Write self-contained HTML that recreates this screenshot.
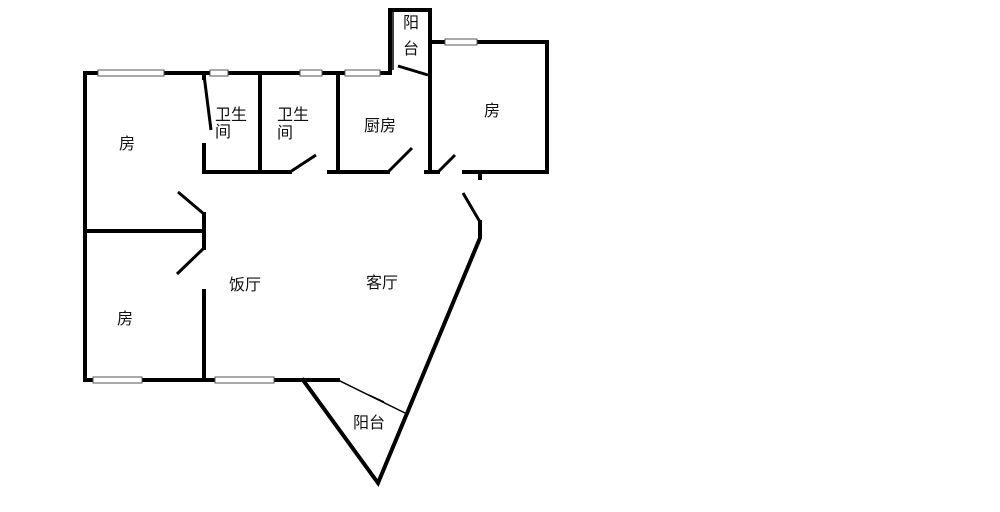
<!DOCTYPE html>
<html><head><meta charset="utf-8"><style>
html,body{margin:0;padding:0;background:#fff;width:1000px;height:512px;overflow:hidden}
svg text{font-family:"Liberation Sans","Noto Sans CJK SC",sans-serif;font-size:16px;fill:#111}
</style></head><body>
<svg width="1000" height="512" viewBox="0 0 1000 512">
<g stroke="#000" stroke-width="4" fill="none" stroke-linecap="square">
<path d="M85 73H390M85 73V380H338"/>
<path d="M204 77V78M204 145V172H290M260 73V172M338 73V172M329 172H388"/>
<path d="M390 73V10H430V172M430 42H547V172H464M426 172H438M480 172V178"/>
<path d="M85 231H204M204 214V248M204 291V380"/>
<path d="M303 380L378 483L480 238V222"/>
</g>
<g stroke="#000" stroke-width="3" fill="none">
<path d="M204 75L211 130M290 172L316 155M388 172L412 148M438 172L455 155M398 66L428 75"/>
<path d="M178 192L204 214M204 248L177 274M480 222L463 193"/>
</g>
<g stroke="#000" stroke-width="1.5" fill="none">
<path d="M338 380L405 413M369 395L384 402"/>
<path d="M393 12V70"/>
</g>
<g fill="#fff" stroke="#555" stroke-width="1">
<rect x="98" y="70" width="66" height="6"/>
<rect x="210" y="70" width="18" height="6"/>
<rect x="300" y="70" width="22" height="6"/>
<rect x="345" y="70" width="35" height="6"/>
<rect x="445" y="39" width="32" height="6"/>
<rect x="93" y="377" width="49" height="6"/>
<rect x="215" y="377" width="59" height="6"/>
</g>
<text x="119" y="149">房</text>
<text x="215" y="120">卫生</text><text x="215" y="137">间</text>
<text x="277" y="120">卫生</text><text x="277" y="138">间</text>
<text x="364" y="131">厨房</text>
<text x="484" y="116">房</text>
<text x="403" y="28">阳</text><text x="403" y="54">台</text>
<text x="117" y="324">房</text>
<text x="229" y="290">饭厅</text>
<text x="366" y="288">客厅</text>
<text x="353" y="428">阳台</text>
</svg>
</body></html>
